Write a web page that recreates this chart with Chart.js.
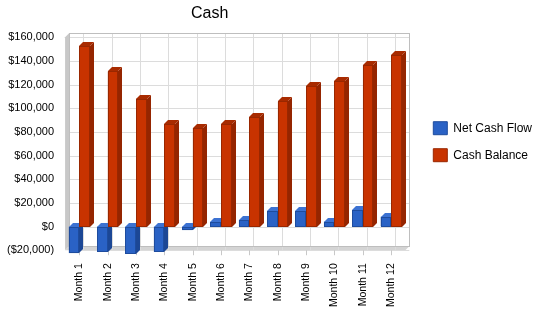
<!DOCTYPE html>
<html>
<head>
<meta charset="utf-8">
<script src="https://cdn.jsdelivr.net/npm/chart.js@4/dist/chart.umd.min.js"></script>
<style>
html,body{margin:0;padding:0;background:#fff;}
#wrap{width:550px;height:318px;}
</style>
</head>
<body>
<div id="wrap"><canvas id="c" width="550" height="318"></canvas></div>
<script>
const categories = ["Month 1","Month 2","Month 3","Month 4","Month 5","Month 6","Month 7","Month 8","Month 9","Month 10","Month 11","Month 12"];
const netCashFlow = [-22600, -21200, -23100, -21600, -3200, 3500, 5600, 13300, 13300, 4200, 13600, 8400];
const cashBalance = [152400, 131200, 108100, 86500, 83300, 86800, 92400, 105700, 119000, 123200, 136800, 145200];
const seriesNames = ["Net Cash Flow", "Cash Balance"];
const yMin = -20000, yMax = 160000, yStep = 20000;

const palette = [
  {front:'#2A62C5', side:'#1C4795', top:'#3C72D2', edge:'#1E4C9E'},
  {front:'#C83300', side:'#952500', top:'#A82B00', edge:'#992700'}
];
const DX = 4, DY = 4;
const LEGEND_SHIFT = 14;

function money(v){
  const s = '$' + Math.abs(v).toLocaleString('en-US');
  return v < 0 ? '(' + s + ')' : s;
}

const boxShift = {
  id: 'boxShift',
  afterLayout(chart){
    const lg = chart.legend;
    if (lg) { lg.left += LEGEND_SHIFT; lg.right += LEGEND_SHIFT; lg.top -= 2; lg.bottom -= 2; }
    const tt = chart.titleBlock;
    if (tt && lg) {
      // centre the title over the area left of the legend
      const want = lg.left / 2;
      const off = want - (tt.left + tt.right) / 2;
      tt.left += off; tt.right += off;
    }
  }
};

const threeD = {
  id: 'threeD',
  beforeDatasetsDraw(chart){
    const {ctx, chartArea:a, scales} = chart;
    const y = scales.y, x = scales.x;
    ctx.save();
    ctx.fillStyle = '#C8C8C8';
    ctx.beginPath();
    ctx.moveTo(a.left, a.top); ctx.lineTo(a.left + DX, a.top - DY);
    ctx.lineTo(a.left + DX, a.bottom - DY); ctx.lineTo(a.left, a.bottom);
    ctx.closePath(); ctx.fill();
    ctx.fillStyle = '#D4D4D4';
    ctx.beginPath();
    ctx.moveTo(a.left, a.bottom); ctx.lineTo(a.left + DX, a.bottom - DY);
    ctx.lineTo(a.right + DX, a.bottom - DY); ctx.lineTo(a.right, a.bottom);
    ctx.closePath(); ctx.fill();
    ctx.strokeStyle = '#DCDCDC';
    ctx.lineWidth = 1;
    y.ticks.forEach((t, i) => {
      const py = Math.round(y.getPixelForTick(i)) + 0.5;
      ctx.beginPath(); ctx.moveTo(a.left + DX, py); ctx.lineTo(a.right + DX, py); ctx.stroke();
    });
    x.ticks.forEach((t, i) => {
      const px = Math.round(x.getPixelForTick(i) + DX) + 0.5;
      ctx.beginPath(); ctx.moveTo(px, a.top - DY); ctx.lineTo(px, a.bottom); ctx.stroke();
    });
    ctx.strokeStyle = '#BEBEBE';
    ctx.strokeRect(Math.round(a.left + DX) + 0.5, Math.round(a.top - DY) + 0.5,
                   Math.round(a.right - a.left), Math.round(a.bottom - a.top));
    ctx.strokeStyle = '#C8C8C8';
    x.ticks.forEach((t, i) => {
      const px = Math.round(x.getPixelForTick(i)) + 0.5;
      ctx.beginPath(); ctx.moveTo(px, a.bottom); ctx.lineTo(px, a.bottom + 5); ctx.stroke();
    });
    ctx.restore();
  },
  afterDatasetsDraw(chart){
    const ctx = chart.ctx;
    const metas = chart.data.datasets.map((d, i) => chart.getDatasetMeta(i));
    ctx.save();
    for (let j = 0; j < chart.data.labels.length; j++) {
      metas.forEach((m, i) => {
        const el = m.data[j];
        if (!el) return;
        const p = el.getProps(['x','y','base','width'], true);
        const l = Math.round(p.x - p.width / 2), r = Math.round(p.x + p.width / 2);
        const t = Math.round(Math.min(p.y, p.base)), b = Math.round(Math.max(p.y, p.base));
        const c = palette[i];
        ctx.fillStyle = c.side;
        ctx.beginPath();
        ctx.moveTo(r, t); ctx.lineTo(r + DX, t - DY); ctx.lineTo(r + DX, b - DY); ctx.lineTo(r, b);
        ctx.closePath(); ctx.fill();
        ctx.fillStyle = c.top;
        ctx.beginPath();
        ctx.moveTo(l, t); ctx.lineTo(l + DX, t - DY); ctx.lineTo(r + DX, t - DY); ctx.lineTo(r, t);
        ctx.closePath(); ctx.fill();
        ctx.fillStyle = c.front;
        ctx.fillRect(l, t, r - l, b - t);
        ctx.strokeStyle = c.edge;
        ctx.lineWidth = 1;
        ctx.strokeRect(l + 0.5, t + 0.5, r - l - 1, b - t - 1);
      });
    }
    ctx.restore();
  }
};

new Chart(document.getElementById('c'), {
  type: 'bar',
  data: {
    labels: categories,
    datasets: [
      {label: seriesNames[0], data: netCashFlow, backgroundColor: palette[0].front, borderColor: palette[0].edge, borderWidth: 1, clip: false},
      {label: seriesNames[1], data: cashBalance, backgroundColor: palette[1].front, borderColor: palette[1].edge, borderWidth: 1, clip: false}
    ]
  },
  options: {
    responsive: false,
    animation: false,
    devicePixelRatio: 1,
    layout: {padding: {left: 4, right: 8 + LEGEND_SHIFT, top: 0, bottom: 6}},
    datasets: {bar: {categoryPercentage: 0.75, barPercentage: 1.0}},
    plugins: {
      title: {
        display: true, text: 'Cash', fullSize: false,
        color: '#000', font: {family: 'Liberation Sans, Arial, sans-serif', size: 16, weight: 'normal'},
        padding: {top: 4, bottom: 14}
      },
      legend: {
        position: 'right', fullSize: false,
        labels: {
          color: '#000', boxWidth: 14, boxHeight: 13, padding: 14,
          font: {family: 'Liberation Sans, Arial, sans-serif', size: 12}
        }
      },
      tooltip: {enabled: false}
    },
    scales: {
      x: {
        grid: {display: false},
        border: {display: false},
        ticks: {
          color: '#000', minRotation: 90, maxRotation: 90, padding: 5, autoSkip: false,
          font: {family: 'Liberation Sans, Arial, sans-serif', size: 10.5}
        }
      },
      y: {
        min: yMin, max: yMax,
        grid: {display: false},
        border: {display: false},
        ticks: {
          stepSize: yStep, color: '#000', padding: 3,
          font: {family: 'Liberation Sans, Arial, sans-serif', size: 11},
          callback: v => money(v)
        }
      }
    }
  },
  plugins: [threeD, boxShift]
});
</script>
</body>
</html>
